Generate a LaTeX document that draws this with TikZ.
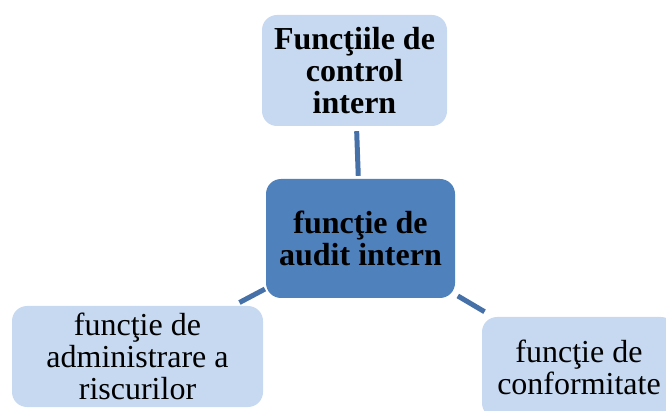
\documentclass[tikz,border=0pt]{standalone}
\usepackage{fontspec}
\setmainfont{Liberation Serif}
\definecolor{lightbox}{HTML}{C6D9F1}
\definecolor{darkbox}{HTML}{4F81BD}
\definecolor{linkcol}{HTML}{4671A8}
\tikzset{
  box/.style={rectangle, rounded corners=15pt, inner sep=0pt, align=center,
    font=\fontsize{32}{32}\selectfont, text=black},
  lightnode/.style={box, fill=lightbox},
  darknode/.style={box, fill=darkbox, font=\fontsize{32}{32}\selectfont\bfseries},
  link/.style={draw=linkcol, line width=5pt}
}
\begin{document}
\begin{tikzpicture}[x=1pt,y=-1pt]
\useasboundingbox (0,0) rectangle (666,411);
\clip (0,0) rectangle (666,411);
\node[lightnode, font=\fontsize{32}{32}\selectfont\bfseries, minimum width=185pt, minimum height=111pt] (top) at (354.5,70.5) {Funcţiile de\\control\\intern};
\node[darknode, minimum width=189pt, minimum height=119pt] (mid) at (360.5,238.5) {funcţie de\\audit intern};
\node[lightnode, minimum width=251pt, minimum height=101pt] (left) at (137.5,356.5) {funcţie de\\administrare a\\riscurilor};
\node[lightnode, minimum width=194pt, minimum height=101pt] (right) at (579,367.5) {funcţie de\\conformitate};
\draw[link, shorten <=3pt, shorten >=5pt] (mid) -- (top);
\draw[link, shorten <=1pt, shorten >=7pt] (mid) -- (left);
\draw[link, shorten <=3pt, shorten >=10pt] (mid) -- (right);
\end{tikzpicture}
\end{document}
